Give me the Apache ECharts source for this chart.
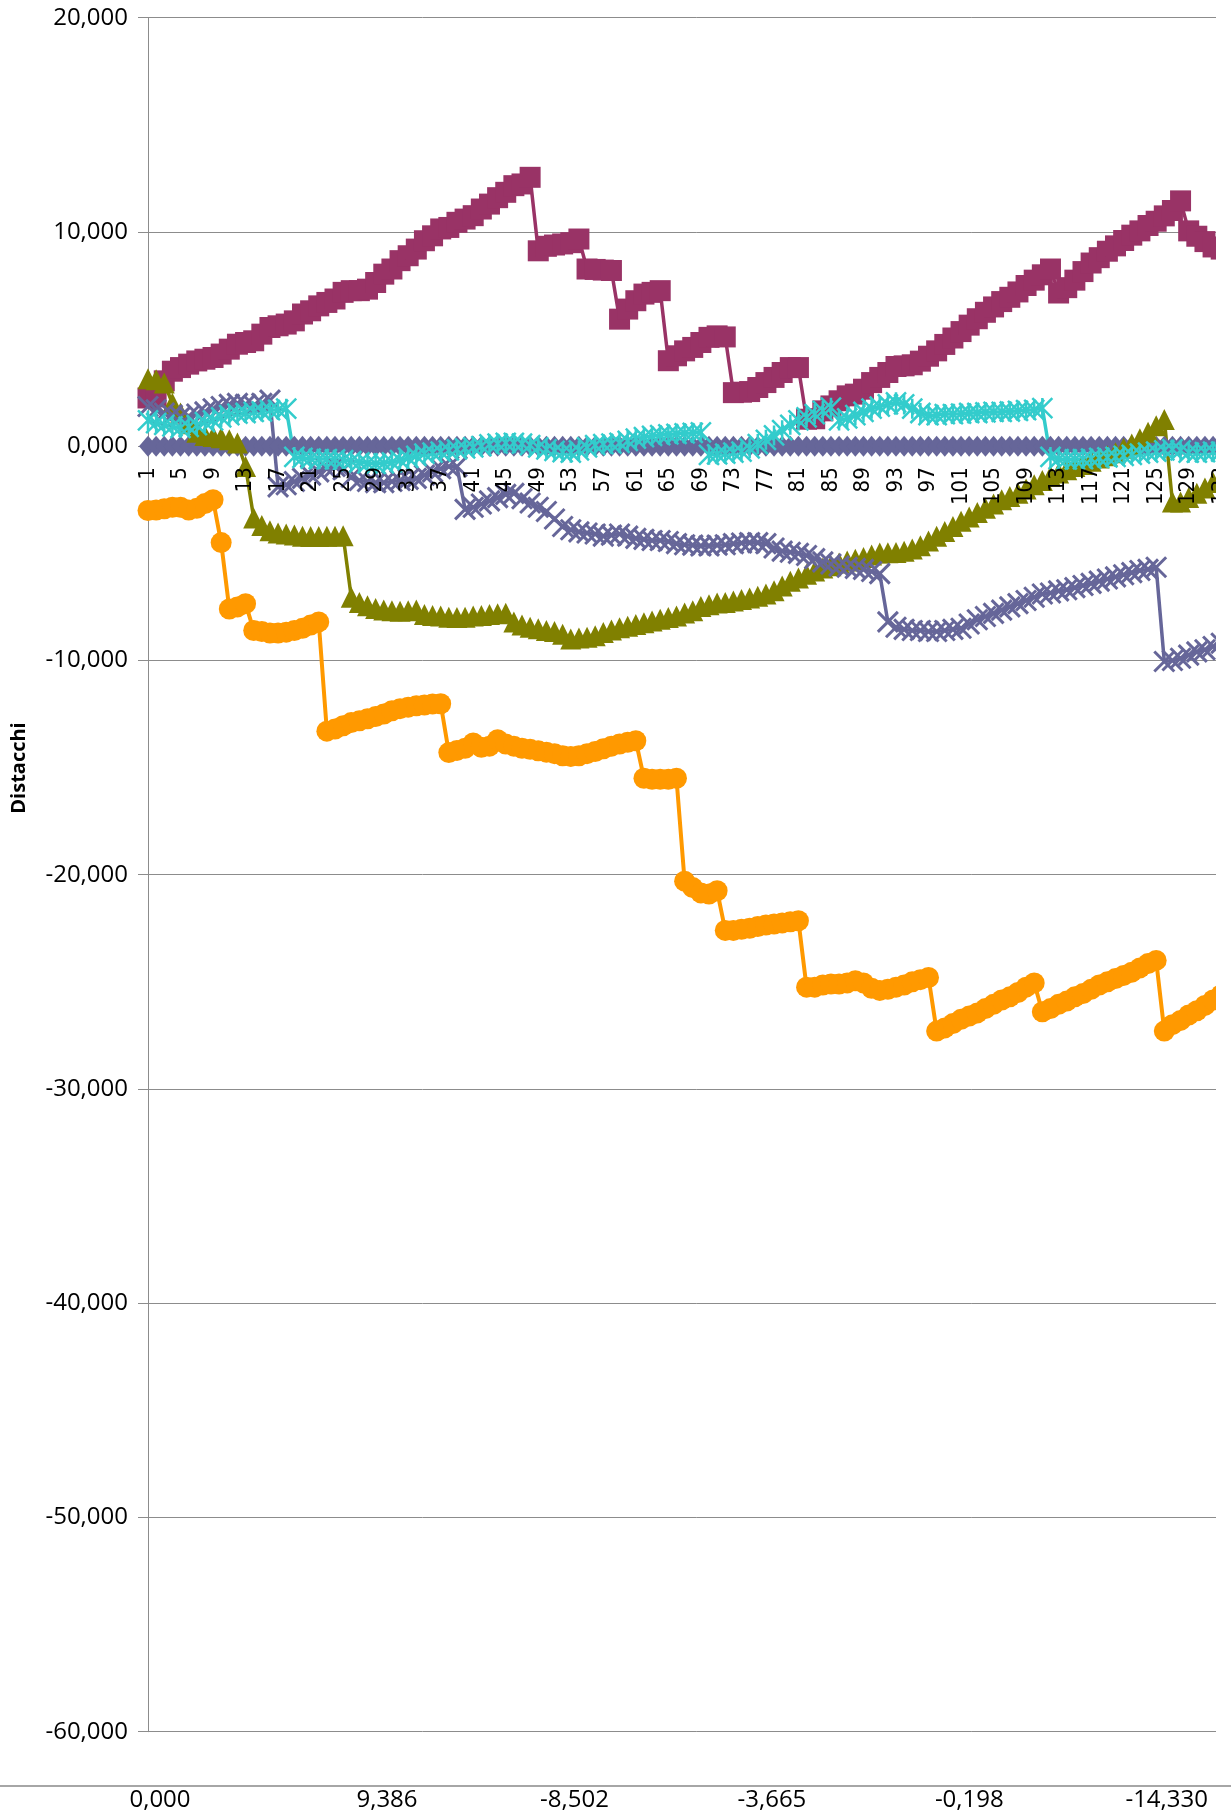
<!DOCTYPE html>
<html><head><meta charset="utf-8">
<script src="https://cdn.jsdelivr.net/npm/echarts@6/dist/echarts.min.js"></script>
<style>html,body{margin:0;padding:0;background:#fff;overflow:hidden}#c{width:1300px;height:1816px}</style>
</head><body><div id="c"></div>
<script>
// Categories 1..136 (race stages)
const categories = Array.from({length: 136}, (_, i) => String(i + 1));

// Y-axis ticks
const yMin = -60, yMax = 20, yStep = 10;

// Lower strip axis: labels and the category slot each one belongs to (103 slots)
const bottomLabels = ['0,000', '9,386', '-8,502', '-3,665', '-0,198', '-14,330'];
const bottomLabelSlots = [0, 23, 42, 62, 82, 102];
const bottomSlotCount = 103;

// Series 1: diamonds (reference, always 0)
const serieRombi = [
0,0,0,0,0,0,0,0,0,0,0,0,0,0,0,0,0,0,0,0,
0,0,0,0,0,0,0,0,0,0,0,0,0,0,0,0,0,0,0,0,
0,0,0,0,0,0,0,0,0,0,0,0,0,0,0,0,0,0,0,0,
0,0,0,0,0,0,0,0,0,0,0,0,0,0,0,0,0,0,0,0,
0,0,0,0,0,0,0,0,0,0,0,0,0,0,0,0,0,0,0,0,
0,0,0,0,0,0,0,0,0,0,0,0,0,0,0,0,0,0,0,0,
0,0,0,0,0,0,0,0,0,0,0,0,0,0,0,0];

// Series 2: squares
const serieQuadrati = [
2.25,2.3,3.05,3.5,3.67,3.83,3.98,4.06,4.14,4.3,
4.53,4.76,4.84,4.92,5.23,5.54,5.62,5.7,5.85,6.17,
6.32,6.55,6.71,6.87,7.18,7.26,7.26,7.33,7.64,8.03,
8.27,8.66,8.89,9.2,9.59,9.82,10.14,10.21,10.45,10.6,
10.76,11.07,11.3,11.6,11.85,12.16,12.24,12.55,9.12,9.33,
9.39,9.44,9.5,9.67,8.27,8.25,8.22,8.2,5.93,6.4,
6.79,7.1,7.18,7.26,3.99,4.22,4.45,4.61,4.84,5.08,
5.15,5.1,2.5,2.52,2.55,2.74,2.97,3.21,3.44,3.67,
3.67,1.26,1.28,1.65,1.88,2.12,2.35,2.43,2.66,2.97,
3.21,3.44,3.72,3.75,3.8,3.97,4.2,4.45,4.75,5.05,
5.35,5.65,5.95,6.25,6.5,6.75,6.95,7.2,7.5,7.75,
8.0,8.27,7.15,7.4,7.75,8.15,8.55,8.8,9.1,9.35,
9.6,9.85,10.05,10.3,10.5,10.75,11.0,11.45,10.05,9.8,
9.55,9.3,9.2,9.1,9.0,8.95];

// Series 3: triangles
const serieTriangoli = [
3.15,3.1,2.95,2.0,1.55,1.05,0.65,0.5,0.45,0.4,
0.3,0.15,-0.95,-3.35,-3.7,-3.95,-4.05,-4.1,-4.15,-4.2,
-4.22,-4.22,-4.2,-4.2,-4.18,-7.05,-7.3,-7.45,-7.58,-7.65,
-7.68,-7.7,-7.68,-7.65,-7.85,-7.9,-7.92,-7.98,-8.0,-7.98,
-7.92,-7.9,-7.85,-7.82,-7.8,-8.2,-8.35,-8.45,-8.52,-8.6,
-8.65,-8.78,-9.0,-8.95,-8.92,-8.85,-8.7,-8.58,-8.47,-8.4,
-8.32,-8.24,-8.16,-8.08,-8.0,-7.92,-7.78,-7.68,-7.48,-7.4,
-7.32,-7.3,-7.22,-7.15,-7.08,-7.0,-6.9,-6.75,-6.52,-6.3,
-6.15,-5.98,-5.82,-5.68,-5.58,-5.45,-5.36,-5.28,-5.2,-5.08,
-4.98,-4.97,-4.96,-4.9,-4.8,-4.65,-4.42,-4.2,-3.98,-3.75,
-3.5,-3.3,-3.1,-2.9,-2.7,-2.5,-2.35,-2.2,-2.0,-1.8,
-1.6,-1.4,-1.25,-1.1,-0.95,-0.85,-0.7,-0.55,-0.45,-0.3,
-0.1,0.1,0.35,0.65,0.95,1.25,-2.6,-2.6,-2.4,-2.2,
-1.95,-1.7,-1.5,-1.3,-1.1,-0.9];

// Series 4: x markers
const serieCroci = [
1.85,1.7,1.55,1.45,1.38,1.4,1.5,1.6,1.75,1.85,
1.95,2.0,1.95,1.9,2.0,2.15,-1.9,-1.8,-1.65,-1.5,
-1.35,-1.2,-1.05,-0.95,-1.1,-1.45,-1.6,-1.65,-1.7,-1.7,
-1.65,-1.6,-1.55,-1.5,-1.35,-1.2,-1.05,-0.95,-0.95,-2.95,
-2.85,-2.7,-2.55,-2.4,-2.25,-2.2,-2.45,-2.65,-2.85,-3.05,
-3.4,-3.75,-3.9,-4.0,-4.05,-4.1,-4.2,-4.15,-4.1,-4.2,
-4.3,-4.35,-4.4,-4.4,-4.45,-4.55,-4.6,-4.62,-4.65,-4.65,
-4.62,-4.6,-4.55,-4.52,-4.5,-4.5,-4.55,-4.75,-4.9,-4.95,
-5.0,-5.1,-5.25,-5.4,-5.5,-5.6,-5.65,-5.7,-5.75,-5.85,
-5.95,-8.2,-8.45,-8.55,-8.6,-8.6,-8.65,-8.65,-8.6,-8.55,
-8.5,-8.3,-8.1,-7.95,-7.8,-7.65,-7.5,-7.35,-7.2,-7.05,
-6.9,-6.85,-6.75,-6.7,-6.6,-6.5,-6.4,-6.3,-6.2,-6.1,
-6.0,-5.9,-5.8,-5.75,-5.65,-10.05,-10.0,-9.9,-9.75,-9.6,
-9.5,-9.35,-9.2,-9.1,-9.0,-8.9];

// Series 5: asterisks
const serieAsterischi = [
1.2,1.08,1.0,0.92,0.86,0.9,0.98,1.12,1.2,1.35,
1.45,1.52,1.55,1.6,1.62,1.68,1.7,1.75,-0.5,-0.55,
-0.58,-0.6,-0.6,-0.62,-0.65,-0.7,-0.75,-0.8,-0.82,-0.8,
-0.75,-0.65,-0.55,-0.45,-0.35,-0.3,-0.25,-0.2,-0.15,-0.1,
-0.05,0.0,0.08,0.12,0.15,0.15,0.12,0.05,-0.05,-0.15,
-0.22,-0.28,-0.3,-0.2,-0.05,0.05,0.1,0.12,0.15,0.25,
0.35,0.42,0.48,0.52,0.55,0.58,0.6,0.62,0.65,-0.4,
-0.38,-0.35,-0.3,-0.25,-0.1,0.1,0.3,0.5,0.75,1.0,
1.2,1.35,1.5,1.65,1.8,1.2,1.3,1.45,1.6,1.75,
1.85,1.95,2.05,1.95,1.75,1.55,1.45,1.45,1.5,1.5,
1.52,1.55,1.55,1.58,1.6,1.6,1.62,1.65,1.68,1.7,
1.78,-0.5,-0.6,-0.62,-0.62,-0.6,-0.58,-0.55,-0.52,-0.5,
-0.45,-0.4,-0.35,-0.3,-0.25,-0.2,-0.15,-0.2,-0.3,-0.3,
-0.28,-0.25,-0.25,-0.22,-0.2,-0.2];

// Series 6: circles
const serieCerchi = [
-3.0,-2.98,-2.92,-2.85,-2.85,-2.98,-2.9,-2.68,-2.5,-4.5,
-7.6,-7.5,-7.35,-8.6,-8.65,-8.72,-8.72,-8.68,-8.6,-8.5,
-8.35,-8.2,-13.3,-13.2,-13.05,-12.9,-12.82,-12.72,-12.62,-12.5,
-12.35,-12.25,-12.18,-12.12,-12.08,-12.03,-12.02,-14.3,-14.2,-14.1,
-13.85,-14.05,-14.0,-13.7,-13.9,-14.0,-14.1,-14.15,-14.22,-14.28,
-14.35,-14.45,-14.48,-14.45,-14.35,-14.25,-14.12,-14.0,-13.9,-13.82,
-13.75,-15.5,-15.55,-15.55,-15.55,-15.5,-20.3,-20.6,-20.85,-20.9,
-20.75,-22.6,-22.6,-22.55,-22.5,-22.42,-22.35,-22.3,-22.25,-22.2,
-22.15,-25.25,-25.25,-25.15,-25.1,-25.1,-25.05,-24.95,-25.05,-25.3,
-25.4,-25.35,-25.25,-25.15,-25.0,-24.9,-24.8,-27.3,-27.15,-26.95,
-26.75,-26.6,-26.45,-26.25,-26.05,-25.85,-25.7,-25.5,-25.25,-25.05,
-26.4,-26.25,-26.05,-25.9,-25.7,-25.55,-25.35,-25.15,-25.0,-24.85,
-24.7,-24.55,-24.35,-24.15,-24.0,-27.3,-27.0,-26.8,-26.55,-26.35,
-26.1,-25.85,-25.6,-25.4,-25.2,-25.0];

// lower-strip category list built from the labels above
const bottomCategories = new Array(bottomSlotCount).fill('');
bottomLabelSlots.forEach((s, i) => { bottomCategories[s] = bottomLabels[i]; });

const fmt = v => v.toFixed(3).replace('.', ',');
const X_PATH = 'path://M0,0L20,20M20,0L0,20';
const STAR_PATH = 'path://M0,0L20,20M20,0L0,20M10,0L10,20';
const GRAY = '#8c8c8c';

// layout
const W = 1300, H = 1816;
const gTop = 17.7, gBottom = 84.3, gLeft = 148, gRight = 54.4;
const gHeight = H - gTop - gBottom;
const zeroOffset = -((0 - yMin) / (yMax - yMin)) * gHeight; // moves category axis to y = 0

function lineSeries(name, data, color, symbol, size, extra) {
  return Object.assign({
    name, type: 'line', data, xAxisIndex: 0, yAxisIndex: 0,
    symbol, symbolSize: size, showAllSymbol: true,
    lineStyle: {color, width: 3.5},
    itemStyle: {color, borderWidth: 0},
    emphasis: {disabled: true},
    clip: true
  }, extra || {});
}

const chart = echarts.init(document.getElementById('c'));
chart.setOption({
  animation: false,
  backgroundColor: '#fff',
  grid: [
    {left: gLeft, top: gTop, right: gRight, bottom: gBottom},
    {left: 160, right: 133.3, top: 1780, height: 6}
  ],
  xAxis: [
    {
      type: 'category', gridIndex: 0, data: categories, boundaryGap: false,
      position: 'bottom', offset: zeroOffset, z: 20,
      axisLine: {show: false, onZero: false},
      axisTick: {show: false},
      axisLabel: {rotate: 90, interval: 3, margin: 21, color: '#000',
        fontSize: 22, fontFamily: "'DejaVu Sans Condensed', 'DejaVu Sans'"},
      splitLine: {show: false}
    },
    {
      type: 'category', gridIndex: 1, data: bottomCategories, boundaryGap: false,
      axisLine: {show: false}, axisTick: {show: false},
      axisLabel: {interval: 0, margin: 2, color: '#000', fontSize: 24,
        fontFamily: "'Open Sans', 'Liberation Sans'"}
    }
  ],
  yAxis: [
    {
      type: 'value', gridIndex: 0, min: yMin, max: yMax, interval: yStep,
      axisLine: {show: true, lineStyle: {color: GRAY, width: 1}},
      axisTick: {show: true, length: 10, lineStyle: {color: GRAY}},
      axisLabel: {formatter: fmt, margin: 20, color: '#000', fontSize: 24,
        fontFamily: "'Open Sans', 'Liberation Sans'"},
      splitLine: {show: true, lineStyle: {color: GRAY, width: 1}}
    },
    {type: 'value', gridIndex: 1, show: false}
  ],
  graphic: [
    {type: 'rect', shape: {x: 1216, y: 0, width: 100, height: 1770}, style: {fill: '#fff'}, z: 100},
    {type: 'line', shape: {x1: 0, y1: 1786, x2: W, y2: 1786}, style: {stroke: '#a6a6a6', lineWidth: 2}, z: 100},
    {type: 'text', x: 19, y: 768, rotation: Math.PI / 2, z: 100,
      style: {text: 'Distacchi', align: 'center', verticalAlign: 'middle', fill: '#000',
        font: "bold 20px 'Open Sans', 'Liberation Sans'"}}
  ],
  series: [
    lineSeries('Serie1', serieRombi, '#666699', 'diamond', [18, 21]),
    lineSeries('Serie2', serieQuadrati, '#993366', 'rect', 21),
    lineSeries('Serie3', serieTriangoli, '#808000', 'triangle', 21),
    lineSeries('Serie4', serieCroci, '#666699', X_PATH, 20,
      {itemStyle: {color: '#666699', borderColor: '#666699', borderWidth: 3}}),
    lineSeries('Serie5', serieAsterischi, '#33CCCC', STAR_PATH, 20,
      {itemStyle: {color: '#33CCCC', borderColor: '#33CCCC', borderWidth: 2.5}}),
    lineSeries('Serie6', serieCerchi, '#FF9900', 'circle', 21,
      {lineStyle: {color: '#FF9900', width: 4}})
  ]
});
</script></body></html>
